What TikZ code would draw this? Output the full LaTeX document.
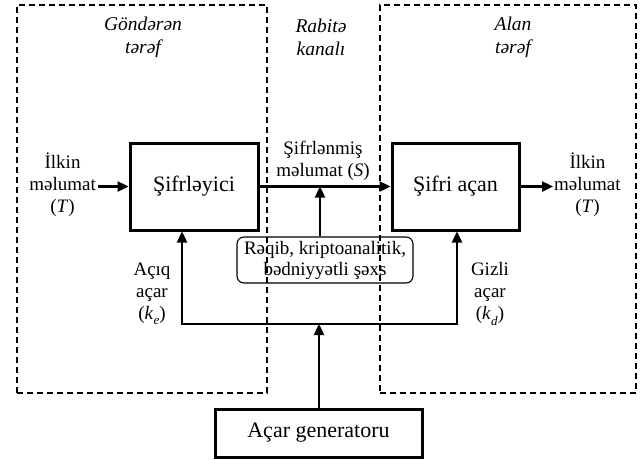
\documentclass[tikz,border=0pt]{standalone}
\usepackage{fontspec}
\setmainfont{Liberation Serif}
\usetikzlibrary{arrows.meta}

% italic letter with a lowered italic index, set in the text font
\newcommand{\keysym}[1]{\textit{k}\kern0.3pt\raisebox{-0.28em}{\fontsize{13}{13}\selectfont\textit{#1}}}

\tikzset{
  zone/.style={draw, line width=1.3pt, dash pattern=on 6pt off 4pt, inner sep=0pt},
  block/.style={draw, line width=3pt, inner sep=0pt, font=\fontsize{22}{26}\selectfont},
  spy/.style={draw, line width=1.1pt, rounded corners=7pt, inner sep=0pt, align=center,
    font=\fontsize{19}{21}\selectfont},
  lbl/.style={align=center, inner sep=2pt, font=\fontsize{19}{22}\selectfont},
  head/.style={align=center, inner sep=0pt, font=\itshape\fontsize{19.5}{23}\selectfont},
  wire/.style={line width=2.4pt, -{Triangle[length=11pt,width=10pt]}},
}

\begin{document}
\begin{tikzpicture}[x=1pt,y=-1pt]
\useasboundingbox (0,0) rectangle (641,459);

% sender and receiver zones
\node[zone, minimum width=250pt, minimum height=388pt] (sender) at (142,199) {};
\node[zone, minimum width=256pt, minimum height=388pt] (receiver) at (508,199) {};

% zone headings
\node[head] (hsend) at (143,37) {Göndərən\\tərəf};
\node[head] (hchan) at (321,37) {Rabitə\\kanalı};
\node[head] (hrecv) at (513,37) {Alan\\tərəf};

% main blocks
\node[block, minimum width=128pt, minimum height=87pt] (enc) at (194,186.5) {Şifrləyici};
\node[block, minimum width=127pt, minimum height=87pt] (dec) at (455.5,186.5) {Şifri açan};
\node[block, minimum width=207pt, minimum height=48pt] (gen) at (318.5,433) {Açar generatoru};
\node[spy, minimum width=176pt, minimum height=46pt] (adv) at (325,260)
  {Rəqib, kriptoanalitik,\\bədniyyətli şəxs};

% labels
\node[lbl, anchor=east] (inL) at (98,185) {İlkin\\məlumat\\(\textit{T})};
\node[lbl, anchor=west, inner sep=1pt] (outR) at (553,185) {İlkin\\məlumat\\(\textit{T})};
\node[lbl] (chanlbl) at (323,161) {Şifrlənmiş\\məlumat (\textit{S})};
\node[lbl] (klbl) at (152,294) {Açıq\\açar\\(\keysym{e})};
\node[lbl] (dlbl) at (490,294) {Gizli\\açar\\(\keysym{d})};

% junction points
\coordinate (tap) at (320,186.5);
\coordinate (bus) at (319,324);
\coordinate (busL) at (182,324);
\coordinate (busR) at (457,324);

% data flow
\draw[wire] (inL.east |- enc) -- (enc.west);
\draw[wire] (enc.east) -- (dec.west);
\draw[wire] (dec.east) -- (outR.west |- dec);
\draw[wire] (adv.north -| tap) -- (tap);

% key distribution
\draw[wire] (gen.north -| bus) -- (bus);
\draw[wire] (bus) -- (busL) -- (busL |- enc.south);
\draw[wire] (bus) -- (busR) -- (busR |- dec.south);
\end{tikzpicture}
\end{document}
